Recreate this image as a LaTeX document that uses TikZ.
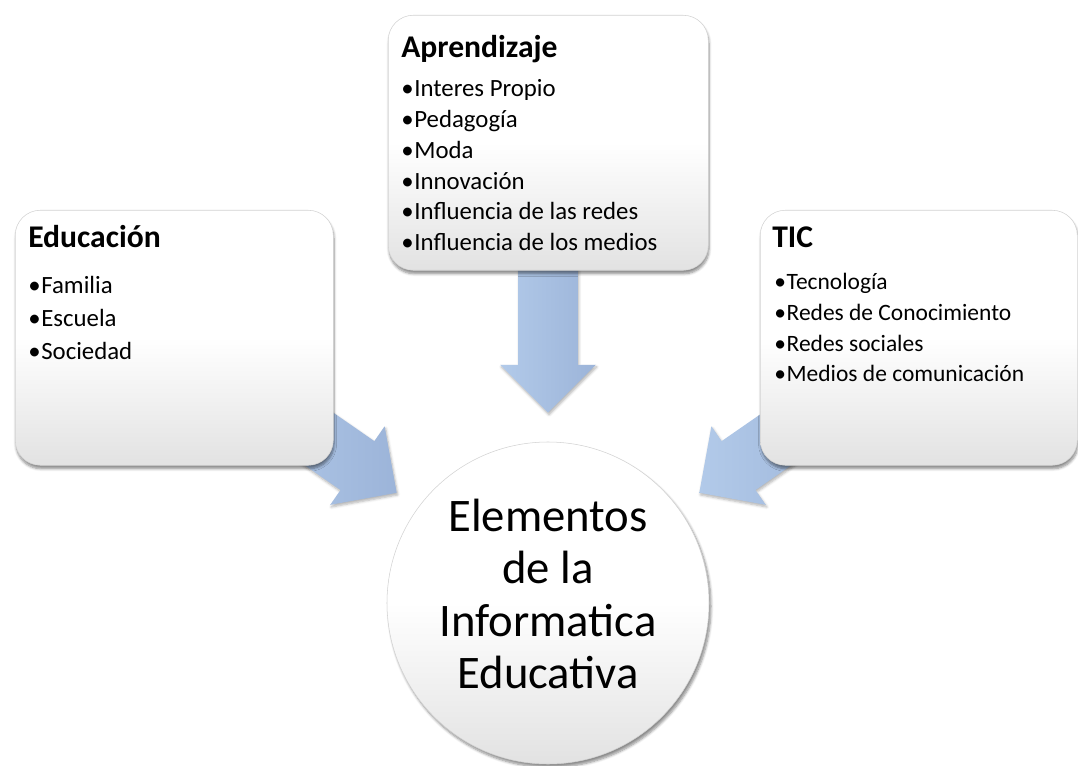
\documentclass[tikz,border=0pt]{standalone}
\usepackage{fontspec}
\setmainfont{Carlito}
\usetikzlibrary{shapes.arrows,shadows.blur}

\definecolor{arrowlight}{RGB}{178,202,233}
\definecolor{arrowdark}{RGB}{156,180,217}
\definecolor{boxgray}{RGB}{226,226,226}
\definecolor{rimgray}{RGB}{210,210,210}

\newcommand{\bul}{•\hspace{0.03em}}

\tikzset{
  infobox/.style={rectangle,rounded corners=18.75pt,draw=rimgray,line width=0.4pt,
    top color=white,bottom color=boxgray,middle color=white,
    blur shadow={shadow xshift=0.6pt,shadow yshift=-2.6pt,shadow blur steps=6,shadow opacity=45},
    inner sep=0pt,anchor=north west},
  hubcircle/.style={circle,draw=rimgray,line width=0.4pt,
    top color=white,bottom color=boxgray,middle color=white,
    blur shadow={shadow xshift=1.5pt,shadow yshift=-2.5pt,shadow blur steps=6,shadow opacity=45},
    inner sep=0pt,minimum size=241.5pt},
  blockarrow/.style={single arrow,single arrow head extend=13.5pt,single arrow head indent=0pt,
    inner xsep=0pt,inner ysep=22.125pt,minimum width=71.25pt,anchor=tip,
    left color=arrowlight,right color=arrowdark,
    blur shadow={shadow xshift=0.8pt,shadow yshift=-1.6pt,shadow blur steps=5,shadow opacity=30}},
  boxhead/.style={anchor=base west,inner sep=0pt,font=\fontsize{23.7}{28}\selectfont\bfseries},
  boxlist/.style={anchor=base west,inner sep=0pt,align=left},
  hubtext/.style={inner sep=0pt,align=center,font=\fontsize{35}{39.3}\selectfont}
}

\begin{document}
\begin{tikzpicture}[x=0.75pt,y=-0.75pt]

\useasboundingbox (0,0) rectangle (1078,766) ;

\node[blockarrow,minimum height=127.5pt,rotate=-34.7] (arrEdu) at (397,493) {} ;
\node[blockarrow,minimum height=127.5pt,rotate=-145.3] (arrTic) at (699,493) {} ;
\node[blockarrow,minimum height=112.5pt,rotate=-90] (arrApr) at (548,413) {} ;

\node[infobox,minimum width=238.5pt,minimum height=191.25pt] (edu) at (15,210) {} ;
\node[infobox,minimum width=240pt,minimum height=191.25pt] (apr) at (388,15) {} ;
\node[infobox,minimum width=237.75pt,minimum height=191.25pt] (tic) at (760,210) {} ;

\node[hubcircle] (elem) at (548,603) {} ;

% the base of a list is its last line
\node[boxhead] (eduHead) at (28,248) {Educación} ;
\node[boxlist,font=\fontsize{18.6}{25}\selectfont] (eduList) at (28,360)
  {\bul Familia\\\bul Escuela\\\bul Sociedad} ;

\node[boxhead] (aprHead) at (401,58) {Aprendizaje} ;
\node[boxlist,font=\fontsize{18.6}{23.1}\selectfont] (aprList) at (401,250.7)
  {\bul Interes Propio\\\bul Pedagogía\\\bul Moda\\\bul Innovación\\\bul Influencia de las redes\\\bul Influencia de los medios} ;

\node[boxhead] (ticHead) at (772,248) {TIC} ;
\node[boxlist,font=\fontsize{17.6}{23}\selectfont] (ticList) at (774,382)
  {\bul Tecnología\\\bul Redes de Conocimiento\\\bul Redes sociales\\\bul Medios de comunicación} ;

\node[hubtext] (elemText) at (548,594) {Elementos\\de la\\Informatica\\Educativa} ;

\end{tikzpicture}
\end{document}
